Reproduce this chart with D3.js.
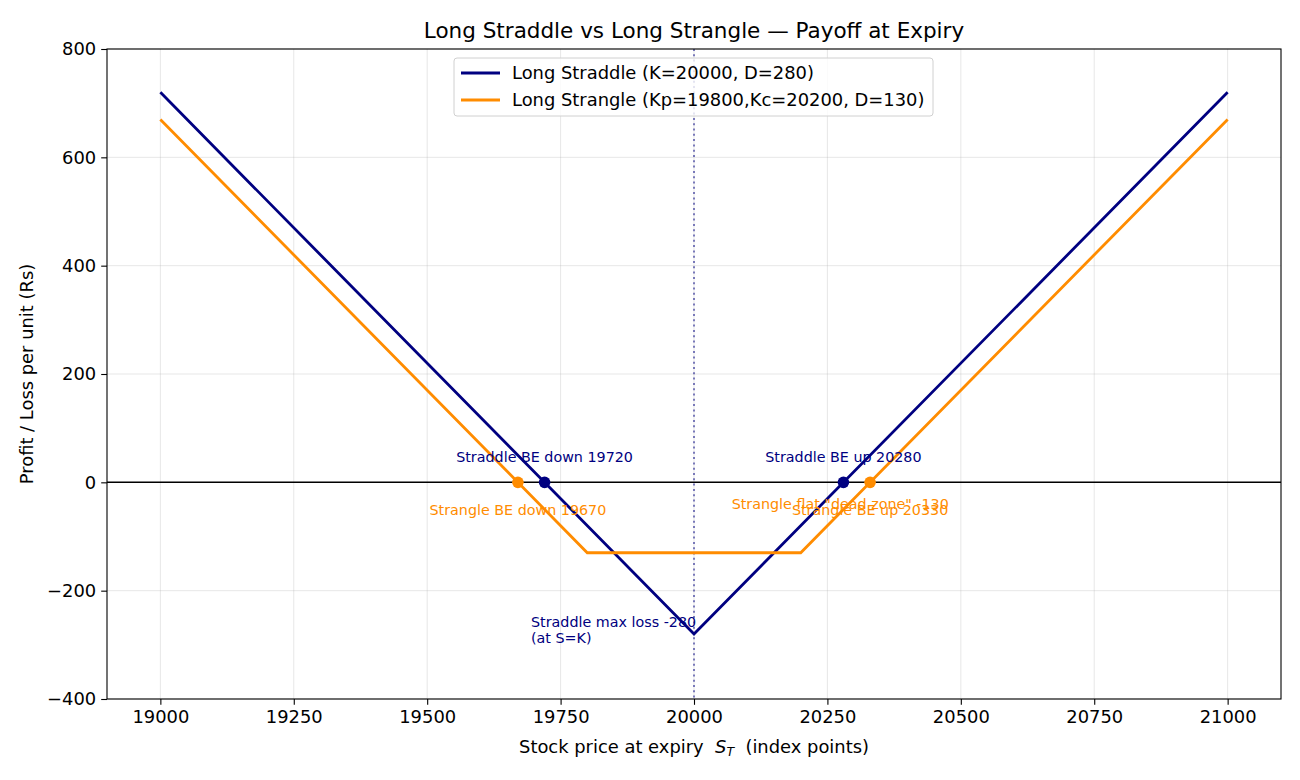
<!DOCTYPE html>
<html>
<head>
<meta charset="utf-8">
<script src="https://cdn.jsdelivr.net/npm/d3@7"></script>
<style>
  body { margin: 0; background: #fff; }
  svg, svg text { font-family: "DejaVu Sans", "Bitstream Vera Sans", sans-serif; }
  .axis text { font-size: 17.9px; fill: #000; }
  .axis path, .axis line { stroke: #000; stroke-width: 1.1px; }
  .grid line { stroke: #b0b0b0; stroke-opacity: 0.3; stroke-width: 1px; }
</style>
</head>
<body>
<svg width="1300" height="780"></svg>
<script>
// strategy payoff kinks (price at expiry -> P/L per unit)
var straddlePrices = [19000, 20000, 21000],
    straddlePnl = [720, -280, 720];
var stranglePrices = [19000, 19800, 20200, 21000],
    stranglePnl = [670, -130, -130, 670];
var straddleBE = [19720, 20280],
    strangleBE = [19670, 20330];
var xTicks = [19000, 19250, 19500, 19750, 20000, 20250, 20500, 20750, 21000],
    yTicks = [-400, -200, 0, 200, 400, 600, 800];
var strike = 20000;
var legendLabels = ["Long Straddle (K=20000, D=280)", "Long Strangle (Kp=19800,Kc=20200, D=130)"];

var navy = "#000080", orange = "#ff8c00";

var svg = d3.select("svg"),
    margin = {top: 49, right: 19, bottom: 81, left: 107},
    width = +svg.attr("width") - margin.left - margin.right,
    height = +svg.attr("height") - margin.top - margin.bottom;

var x = d3.scaleLinear().domain([18900, 21100]).range([0, width]);
var y = d3.scaleLinear().domain([-400, 800]).range([height, 0]);

var chart = svg.append("g")
    .attr("transform", "translate(" + margin.left + "," + margin.top + ")");

// grid
chart.append("g").attr("class", "grid")
  .selectAll("line").data(xTicks).enter().append("line")
    .attr("x1", function(d) { return x(d); }).attr("x2", function(d) { return x(d); })
    .attr("y1", 0).attr("y2", height);
chart.append("g").attr("class", "grid")
  .selectAll("line").data(yTicks).enter().append("line")
    .attr("y1", function(d) { return y(d); }).attr("y2", function(d) { return y(d); })
    .attr("x1", 0).attr("x2", width);

// zero line + strike marker
chart.append("line")
    .attr("x1", 0).attr("x2", width)
    .attr("y1", y(0)).attr("y2", y(0))
    .attr("stroke", "#000").attr("stroke-width", 1.5);
chart.append("line")
    .attr("x1", x(strike)).attr("x2", x(strike))
    .attr("y1", 0).attr("y2", height)
    .attr("stroke", navy).attr("stroke-opacity", 0.5)
    .attr("stroke-width", 2).attr("stroke-dasharray", "2,3.3");

var line = d3.line()
    .x(function(d) { return x(d[0]); })
    .y(function(d) { return y(d[1]); });

chart.append("path")
    .datum(d3.zip(straddlePrices, straddlePnl))
    .attr("fill", "none").attr("stroke", navy).attr("stroke-width", 2.8)
    .attr("d", line);
chart.append("path")
    .datum(d3.zip(stranglePrices, stranglePnl))
    .attr("fill", "none").attr("stroke", orange).attr("stroke-width", 2.8)
    .attr("d", line);

// breakeven markers
chart.selectAll(".be-strangle").data(strangleBE).enter().append("circle")
    .attr("cx", function(d) { return x(d); }).attr("cy", y(0))
    .attr("r", 5.8).attr("fill", orange);
chart.selectAll(".be-straddle").data(straddleBE).enter().append("circle")
    .attr("cx", function(d) { return x(d); }).attr("cy", y(0))
    .attr("r", 5.8).attr("fill", navy);

// annotations
function note(px, py, dx, dy, txt, color, anchor) {
  chart.append("text")
      .attr("x", x(px) + dx).attr("y", y(py) + dy)
      .attr("text-anchor", anchor || "middle")
      .attr("font-size", "14.3px").attr("fill", color)
      .text(txt);
}
note(straddleBE[0], 0, 0, -20, "Straddle BE down 19720", navy);
note(straddleBE[1], 0, 0, -20, "Straddle BE up 20280", navy);
note(strangleBE[0], 0, 0, 33, "Strangle BE down 19670", orange);
note(strangleBE[1], 0, 0, 33, "Strangle BE up 20330", orange);
note(stranglePrices[2], stranglePnl[2], 39.5, -44, "Strangle flat \"dead zone\" -130", orange);
note(strike, -280, -163, -7, "Straddle max loss -280", navy, "start");
note(strike, -280, -163, 9, "(at S=K)", navy, "start");

// axes
chart.append("g").attr("class", "axis")
    .attr("transform", "translate(0," + height + ")")
    .call(d3.axisBottom(x).tickValues(xTicks).tickFormat(d3.format("d")).tickSize(5.8).tickPadding(5))
    .call(function(g) { g.select(".domain").remove(); });
chart.append("g").attr("class", "axis")
    .call(d3.axisLeft(y).tickValues(yTicks).tickFormat(function(d) { return d < 0 ? "\u2212" + (-d) : d; }).tickSize(5.8).tickPadding(5))
    .call(function(g) { g.select(".domain").remove(); });

chart.append("rect")
    .attr("width", width).attr("height", height)
    .attr("fill", "none").attr("stroke", "#000").attr("stroke-width", 1.1);

// labels
svg.append("text")
    .attr("x", margin.left + width / 2).attr("y", 38)
    .attr("text-anchor", "middle").attr("font-size", "21.5px")
    .text("Long Straddle vs Long Strangle \u2014 Payoff at Expiry");

var xl = svg.append("text")
    .attr("x", margin.left + width / 2).attr("y", 753)
    .attr("text-anchor", "middle").attr("font-size", "17.9px")
    .style("white-space", "pre");
xl.append("tspan").text("Stock price at expiry  ");
xl.append("tspan").attr("font-style", "italic").text("S");
xl.append("tspan").attr("font-style", "italic").attr("font-size", "12.5px").attr("dy", 3).text("T");
xl.append("tspan").attr("dy", -3).text("  (index points)");

svg.append("text")
    .attr("transform", "translate(33," + (margin.top + height / 2) + ") rotate(-90)")
    .attr("text-anchor", "middle").attr("font-size", "17.9px")
    .text("Profit / Loss per unit (Rs)");

// legend
var lg = chart.append("g").attr("transform", "translate(347,9)");
lg.append("rect")
    .attr("width", 479).attr("height", 58).attr("rx", 3)
    .attr("fill", "#fff").attr("fill-opacity", 0.8)
    .attr("stroke", "#d0d0d0");
lg.selectAll(".item").data(legendLabels).enter().append("g")
    .attr("transform", function(d, i) { return "translate(0," + (15 + i * 27) + ")"; })
    .each(function(d, i) {
      var g = d3.select(this);
      g.append("line").attr("x1", 7).attr("x2", 46).attr("y1", 0).attr("y2", 0)
          .attr("stroke", i ? orange : navy).attr("stroke-width", 2.8);
      g.append("text").attr("x", 58).attr("y", 6).attr("font-size", "17.9px").text(d);
    });
</script>
</body>
</html>
